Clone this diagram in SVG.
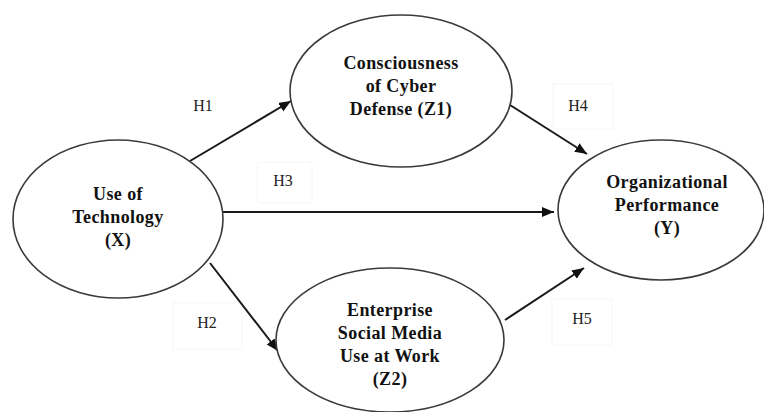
<svg xmlns="http://www.w3.org/2000/svg" width="764" height="412" viewBox="0 0 764 412">
<style>
.node ellipse{fill:#fff;stroke:#3a3a3a;stroke-width:1.6}
.node text{font-family:"Liberation Serif","Times New Roman",serif;font-weight:bold;font-size:18px;letter-spacing:0.4px;fill:#111;text-anchor:middle}
.conn line{stroke:#1a1a1a;stroke-width:2;fill:none;marker-end:url(#ah)}
.lbl rect{fill:#fff;stroke:#f6f6f6;stroke-width:1}
.lbl text{font-family:"Liberation Serif","Times New Roman",serif;font-size:16px;fill:#222;text-anchor:middle}
</style>
<defs>
<marker id="ah" markerUnits="userSpaceOnUse" markerWidth="14" markerHeight="12" refX="12" refY="5" orient="auto">
<path d="M0,0 L12,5 L0,10 z" fill="#111"/>
</marker>
</defs>
<rect width="764" height="412" fill="#fff"/>
<g id="labels" class="lbl">
<g id="lbl-h1"><text x="203" y="111">H1</text></g>
<g id="lbl-h2"><rect x="173" y="303" width="69" height="46"/><text x="207" y="328">H2</text></g>
<g id="lbl-h3"><rect x="257" y="162" width="55" height="41" rx="3"/><text x="283" y="186">H3</text></g>
<g id="lbl-h4"><rect x="553" y="84" width="60" height="45"/><text x="578" y="111">H4</text></g>
<g id="lbl-h5"><rect x="552" y="299" width="60" height="46"/><text x="582" y="324">H5</text></g>
</g>
<g id="connectors" class="conn">
<line id="h1" x1="190" y1="161" x2="291" y2="101"/>
<line id="h2" x1="210" y1="263" x2="278" y2="351"/>
<line id="h3" x1="223" y1="212" x2="554" y2="212"/>
<line id="h4" x1="510" y1="105" x2="587" y2="154"/>
<line id="h5" x1="505" y1="320" x2="584" y2="268"/>
</g>
<g id="node-x" class="node">
<ellipse cx="118" cy="219" rx="105" ry="79"/>
<text x="118" y="200">Use of</text>
<text x="118" y="223">Technology</text>
<text x="118" y="246">(X)</text>
</g>
<g id="node-z1" class="node">
<ellipse cx="401" cy="91" rx="111" ry="76"/>
<text x="401" y="69">Consciousness</text>
<text x="401" y="92">of Cyber</text>
<text x="401" y="115">Defense (Z1)</text>
</g>
<g id="node-z2" class="node">
<ellipse cx="390" cy="340" rx="114" ry="72"/>
<text x="390" y="316">Enterprise</text>
<text x="390" y="339">Social Media</text>
<text x="390" y="362">Use at Work</text>
<text x="390" y="385">(Z2)</text>
</g>
<g id="node-y" class="node">
<ellipse cx="661" cy="210" rx="103" ry="70"/>
<text x="667" y="188">Organizational</text>
<text x="667" y="211">Performance</text>
<text x="667" y="234">(Y)</text>
</g>
</svg>
